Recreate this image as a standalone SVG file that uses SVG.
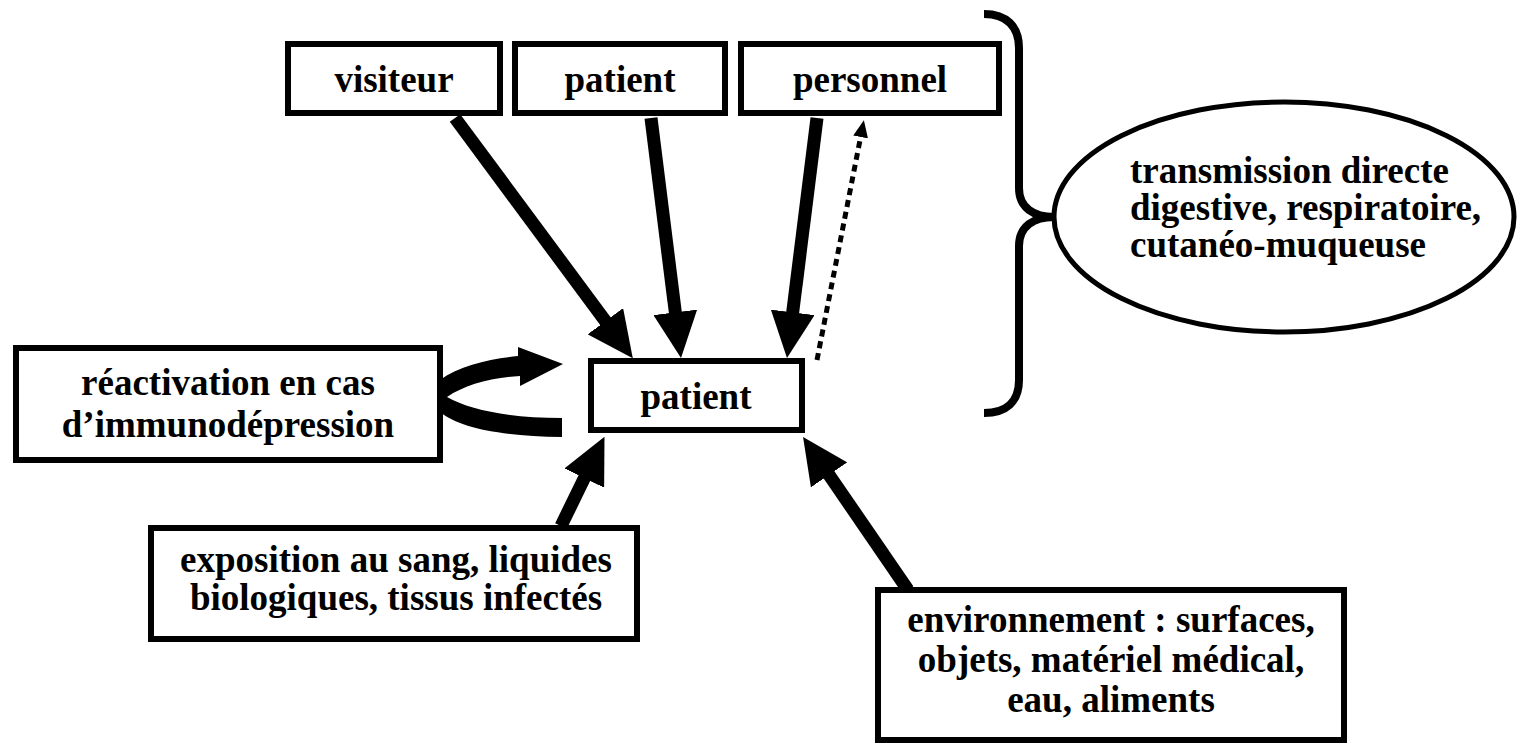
<svg xmlns="http://www.w3.org/2000/svg" width="1517" height="746" viewBox="0 0 1517 746">
<style>
.box{fill:#fff;stroke:#000;stroke-width:6}
.t{font-family:"Liberation Serif","Times New Roman",serif;font-weight:bold;font-size:37px;fill:#000}
.c{text-anchor:middle}
.sh{stroke:#000;stroke-width:13;fill:none}
.dot{stroke:#000;stroke-width:5;fill:none;stroke-dasharray:7 5}
</style>
<defs>
<marker id="ah" markerUnits="userSpaceOnUse" markerWidth="46" markerHeight="44" viewBox="0 0 46 44" refX="4" refY="22" orient="auto"><path d="M0,0 L46,22 L0,44 z" fill="#000"/></marker>
<marker id="ahs" markerUnits="userSpaceOnUse" markerWidth="17" markerHeight="15" viewBox="0 0 17 15" refX="2" refY="7.5" orient="auto"><path d="M0,0 L17,7.5 L0,15 z" fill="#000"/></marker>
</defs>
<g id="connectors">
<line class="sh" x1="455" y1="118" x2="607.8" y2="324.4" marker-end="url(#ah)"/>
<line class="sh" x1="651" y1="118" x2="675.8" y2="316.3" marker-end="url(#ah)"/>
<line class="sh" x1="817" y1="118" x2="792.2" y2="316.3" marker-end="url(#ah)"/>
<line class="dot" x1="817" y1="360" x2="861" y2="135" marker-end="url(#ahs)"/>
<line class="sh" x1="561" y1="526" x2="586.1" y2="474.5" marker-end="url(#ah)"/>
<line class="sh" x1="908" y1="590" x2="826.8" y2="471.6" marker-end="url(#ah)"/>
<path id="reactivation-loop" d="M440 380 C460 365 490 359 518 356 L518 347 L563 364 L520 386 L520 376 C490 378 465 385 447 397 C470 410 510 418 562 418 L562 437 C500 436 460 428 440 412 Z" fill="#000"/>
<path id="bracket" d="M984 14 C1006 14 1019 26 1019 48 L1019 188 C1019 208 1034 217 1054 217 C1034 217 1019 226 1019 246 L1019 380 C1019 402 1006 413 984 413" fill="none" stroke="#000" stroke-width="8"/>
</g>
<g id="node-visiteur">
<rect class="box" x="288" y="44" width="212" height="69"/>
<text class="t c" x="394" y="92">visiteur</text>
</g>
<g id="node-patient-top">
<rect class="box" x="515" y="44" width="210" height="69"/>
<text class="t c" x="620" y="92">patient</text>
</g>
<g id="node-personnel">
<rect class="box" x="741" y="44" width="258" height="69"/>
<text class="t c" x="870" y="92">personnel</text>
</g>
<g id="node-patient">
<rect class="box" x="591" y="361" width="211" height="69"/>
<text class="t c" x="696" y="409">patient</text>
</g>
<g id="node-reactivation">
<rect class="box" x="16" y="348" width="424" height="112"/>
<text class="t c" x="228" y="395">réactivation en cas</text>
<text class="t c" x="228" y="437">d’immunodépression</text>
</g>
<g id="node-exposition">
<rect class="box" x="151" y="528" width="486" height="111"/>
<text class="t c" x="396" y="572">exposition au sang, liquides</text>
<text class="t c" x="396" y="610">biologiques, tissus infectés</text>
</g>
<g id="node-environnement">
<rect class="box" x="878" y="590" width="466" height="150"/>
<text class="t c" x="1111" y="632">environnement : surfaces,</text>
<text class="t c" x="1111" y="672">objets, matériel médical,</text>
<text class="t c" x="1111" y="712">eau, aliments</text>
</g>
<g id="node-transmission">
<ellipse cx="1284" cy="217" rx="230" ry="115" fill="#fff" stroke="#000" stroke-width="5"/>
<text class="t" x="1130" y="183">transmission directe</text>
<text class="t" x="1130" y="220">digestive, respiratoire,</text>
<text class="t" x="1130" y="257">cutanéo-muqueuse</text>
</g>
</svg>
